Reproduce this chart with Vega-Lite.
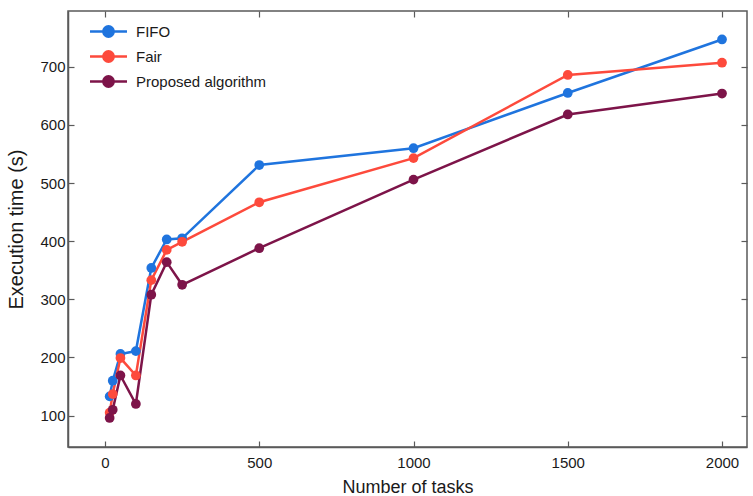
{
  "$schema": "https://vega.github.io/schema/vega-lite/v6.json",
  "width": 679,
  "height": 436,
  "autosize": "none",
  "padding": {"left": 68, "top": 11, "right": 6, "bottom": 49},
  "background": "white",
  "config": {
    "font": "Liberation Sans",
    "view": {"stroke": "#5a5a5a", "strokeWidth": 1.5},
    "axis": {"grid": false, "domainColor": "#5a5a5a", "domainWidth": 1.5, "tickColor": "#5a5a5a", "tickWidth": 1.2, "labelColor": "#1a1a1a", "titleColor": "#1a1a1a", "labelFontSize": 15, "titleFontWeight": "normal"}
  },
  "data": {"values": [
    {"tasks": 15, "time": 133, "method": "FIFO"},
    {"tasks": 25, "time": 160, "method": "FIFO"},
    {"tasks": 50, "time": 206, "method": "FIFO"},
    {"tasks": 100, "time": 211, "method": "FIFO"},
    {"tasks": 150, "time": 354, "method": "FIFO"},
    {"tasks": 200, "time": 403, "method": "FIFO"},
    {"tasks": 250, "time": 405, "method": "FIFO"},
    {"tasks": 500, "time": 531, "method": "FIFO"},
    {"tasks": 1000, "time": 560, "method": "FIFO"},
    {"tasks": 1500, "time": 655, "method": "FIFO"},
    {"tasks": 2000, "time": 747, "method": "FIFO"},
    {"tasks": 15, "time": 105, "method": "Fair"},
    {"tasks": 25, "time": 137, "method": "Fair"},
    {"tasks": 50, "time": 199, "method": "Fair"},
    {"tasks": 100, "time": 169, "method": "Fair"},
    {"tasks": 150, "time": 333, "method": "Fair"},
    {"tasks": 200, "time": 385, "method": "Fair"},
    {"tasks": 250, "time": 399, "method": "Fair"},
    {"tasks": 500, "time": 467, "method": "Fair"},
    {"tasks": 1000, "time": 543, "method": "Fair"},
    {"tasks": 1500, "time": 686, "method": "Fair"},
    {"tasks": 2000, "time": 707, "method": "Fair"},
    {"tasks": 15, "time": 96, "method": "Proposed algorithm"},
    {"tasks": 25, "time": 110, "method": "Proposed algorithm"},
    {"tasks": 50, "time": 169, "method": "Proposed algorithm"},
    {"tasks": 100, "time": 120, "method": "Proposed algorithm"},
    {"tasks": 150, "time": 308, "method": "Proposed algorithm"},
    {"tasks": 200, "time": 364, "method": "Proposed algorithm"},
    {"tasks": 250, "time": 325, "method": "Proposed algorithm"},
    {"tasks": 500, "time": 388, "method": "Proposed algorithm"},
    {"tasks": 1000, "time": 506, "method": "Proposed algorithm"},
    {"tasks": 1500, "time": 618, "method": "Proposed algorithm"},
    {"tasks": 2000, "time": 654, "method": "Proposed algorithm"}
  ]},
  "layer": [
    {
      "mark": {"type": "line", "strokeWidth": 2.5},
      "encoding": {
        "x": {"field": "tasks", "type": "quantitative", "scale": {"domain": [-120, 2081], "nice": false, "zero": false},
          "axis": {"orient": "bottom", "values": [0, 500, 1000, 1500, 2000], "format": "d", "tickSize": -6, "labelPadding": 14, "title": "Number of tasks", "titleFontSize": 18, "titlePadding": 8}},
        "y": {"field": "time", "type": "quantitative", "scale": {"domain": [46, 796], "nice": false, "zero": false},
          "axis": {"orient": "left", "values": [100, 200, 300, 400, 500, 600, 700], "format": "d", "tickSize": -6, "labelPadding": 9, "title": "Execution time (s)", "titleFontSize": 20, "titlePadding": 13}},
        "color": {"field": "method", "type": "nominal",
          "scale": {"domain": ["FIFO", "Fair", "Proposed algorithm"], "range": ["#1f74de", "#fd4a3c", "#7d1449"]},
          "legend": {"title": null, "orient": "none", "legendX": 30, "legendY": 10, "labelFontSize": 15, "labelColor": "#1a1a1a", "labelOffset": 17, "rowPadding": 4, "padding": 0,
            "symbolType": "M-2,0H2M-0.56,0A0.56,0.56,0,1,1,0.56,0A0.56,0.56,0,1,1,-0.56,0Z", "symbolSize": 342, "symbolStrokeWidth": 2.5,
            "encode": {"symbols": {"update": {"fill": {"scale": "color", "field": "value"}, "stroke": {"scale": "color", "field": "value"}, "fillOpacity": {"value": 1}}}}}
        }
      }
    },
    {
      "mark": {"type": "point", "filled": true, "size": 95, "opacity": 1},
      "encoding": {
        "x": {"field": "tasks", "type": "quantitative", "axis": {"orient": "top", "values": [0, 500, 1000, 1500, 2000], "tickSize": -6, "labels": false, "title": null, "domain": false}},
        "y": {"field": "time", "type": "quantitative", "axis": {"orient": "right", "values": [100, 200, 300, 400, 500, 600, 700], "tickSize": -6, "labels": false, "title": null, "domain": false}},
        "color": {"field": "method", "type": "nominal", "legend": null}
      }
    }
  ],
  "resolve": {"axis": {"x": "independent", "y": "independent"}}
}
